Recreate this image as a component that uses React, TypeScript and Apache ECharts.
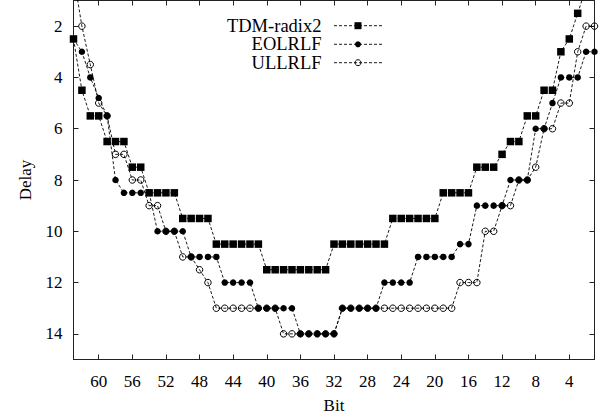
import React, { useEffect, useRef } from "react";
import * as echarts from "echarts";

const bits: number[] = [];
for (let b = 63; b >= 1; b--) bits.push(b);

const tdmRadix2 = [2.5,4.5,5.5,5.5,6.5,6.5,6.5,7.5,7.5,8.5,8.5,8.5,8.5,9.5,9.5,9.5,9.5,10.5,10.5,10.5,10.5,10.5,10.5,11.5,11.5,11.5,11.5,11.5,11.5,11.5,11.5,10.5,10.5,10.5,10.5,10.5,10.5,10.5,9.5,9.5,9.5,9.5,9.5,9.5,8.5,8.5,8.5,8.5,7.5,7.5,7.5,7,6.5,6.5,5.5,5.5,4.5,4.5,3,2.5,1.5,0.5,null];
const eolrlf = [2.5,3,4,4.8,5.5,8,8.5,8.5,8.5,8.5,10,10,10,10,11,11,11,11,12,12,12,12,13,13,13,13,13,14,14,14,14,14,13,13,13,13,13,12,12,12,12,11,11,11,11,11,10.5,10.5,9,9,9,9,8,8,8,6,6,5,4,4,4,3,3];
const ullrlf = [0,2,3.5,5,5.5,7,7,8,8,9,9,10,10,11,11,11.5,12,13,13,13,13,13,13,13,13,14,14,14,14,14,14,14,13,13,13,13,13,13,13,13,13,13,13,13,13,13,12,12,12,10,10,9,9,8,8,7.5,6,6,5,5,3,2,2];

const seriesNames = ["TDM-radix2", "EOLRLF", "ULLRLF"];
const xTicks = [4, 8, 12, 16, 20, 24, 28, 32, 36, 40, 44, 48, 52, 56, 60];
const yTicks = [2, 4, 6, 8, 10, 12, 14];

const FONT = "Liberation Serif";
const FS = 17;
const LEGEND_FS = 18.5;

function pairs(vals: (number | null)[]) {
  return bits.map((b, i) => [b, vals[i]]);
}

export default function App() {
  const ref = useRef<HTMLDivElement>(null);
  useEffect(() => {
    const chart = echarts.init(ref.current!, undefined, { renderer: "svg" });
    const axisLine = { show: true, lineStyle: { color: "#222", width: 1 } };
    const lineStyle = { color: "#000", width: 0.9, type: [3, 2] as any };
    const legendRows = [25.7, 44.3, 62.7];
    const graphic: any[] = [];
    legendRows.forEach((y, i) => {
      graphic.push({
        type: "text",
        x: 321.5,
        y: y,
        style: { text: seriesNames[i], font: `${LEGEND_FS}px "${FONT}"`, fill: "#000", align: "right", verticalAlign: "middle" },
      });
      graphic.push({
        type: "line",
        shape: { x1: 334, y1: y, x2: 382, y2: y },
        style: { stroke: "#000", lineWidth: 0.9, lineDash: [3, 2] },
      });
      if (i === 0) {
        graphic.push({ type: "rect", shape: { x: 354.5, y: y - 3.5, width: 7, height: 7 }, style: { fill: "#000" } });
      } else if (i === 1) {
        graphic.push({ type: "circle", shape: { cx: 358, cy: y, r: 3 }, style: { fill: "#000" } });
      } else {
        graphic.push({ type: "circle", shape: { cx: 358, cy: y, r: 3 }, style: { fill: "none", stroke: "#000", lineWidth: 1 } });
      }
    });

    chart.setOption({
      animation: false,
      backgroundColor: "#fff",
      textStyle: { fontFamily: FONT },
      grid: { left: 73.5, right: 13.5, top: 0.5, bottom: 59.5, containLabel: false },
      xAxis: [
        {
          type: "value",
          min: 1,
          max: 63,
          inverse: true,
          position: "bottom",
          name: "Bit",
          nameLocation: "middle",
          nameGap: 37,
          nameTextStyle: { fontFamily: FONT, fontSize: FS, color: "#000" },
          axisLine,
          axisTick: { show: true, inside: true, length: 5, customValues: xTicks, lineStyle: { color: "#222" } },
          axisLabel: { show: true, customValues: xTicks, margin: 13, fontFamily: FONT, fontSize: FS, color: "#000" },
          splitLine: { show: false },
        },
        {
          type: "value",
          min: 1,
          max: 63,
          inverse: true,
          position: "top",
          axisLine,
          axisTick: { show: true, inside: true, length: 5, customValues: xTicks, lineStyle: { color: "#222" } },
          axisLabel: { show: false },
          splitLine: { show: false },
        },
      ],
      yAxis: [
        {
          type: "value",
          min: 1,
          max: 15,
          inverse: true,
          position: "left",
          name: "Delay",
          nameLocation: "middle",
          nameGap: 40,
          nameTextStyle: { fontFamily: FONT, fontSize: FS, color: "#000" },
          axisLine,
          axisTick: { show: true, inside: true, length: 5, customValues: yTicks, lineStyle: { color: "#222" } },
          axisLabel: { show: true, customValues: yTicks, margin: 11, fontFamily: FONT, fontSize: FS, color: "#000" },
          splitLine: { show: false },
        },
        {
          type: "value",
          min: 1,
          max: 15,
          inverse: true,
          position: "right",
          axisLine,
          axisTick: { show: true, inside: true, length: 5, customValues: yTicks, lineStyle: { color: "#222" } },
          axisLabel: { show: false },
          splitLine: { show: false },
        },
      ],
      series: [
        {
          name: seriesNames[0],
          type: "line",
          data: pairs(tdmRadix2),
          symbol: "rect",
          symbolSize: 7.5,
          showAllSymbol: true,
          itemStyle: { color: "#000" },
          lineStyle,
          clip: true,
          z: 2,
        },
        {
          name: seriesNames[1],
          type: "line",
          data: pairs(eolrlf),
          symbol: "circle",
          symbolSize: 6.5,
          showAllSymbol: true,
          itemStyle: { color: "#000" },
          lineStyle,
          clip: true,
          z: 3,
        },
        {
          name: seriesNames[2],
          type: "line",
          data: pairs(ullrlf),
          symbol: "circle",
          symbolSize: 6.5,
          showAllSymbol: true,
          itemStyle: { color: "rgba(0,0,0,0)", borderColor: "#000", borderWidth: 1 },
          lineStyle,
          clip: true,
          z: 4,
        },
      ],
      graphic,
    });
    return () => chart.dispose();
  }, []);
  return (
    <div
      ref={ref}
      style={{ position: "fixed", left: 0, top: 0, width: 608, height: 419, background: "#fff" }}
    />
  );
}
